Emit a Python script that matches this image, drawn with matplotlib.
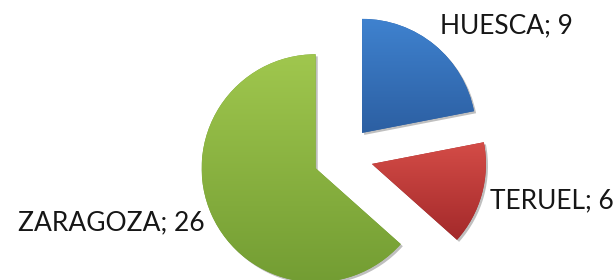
import numpy as np
import matplotlib
matplotlib.use("Agg")
import matplotlib.pyplot as plt
from matplotlib.colors import LinearSegmentedColormap
import matplotlib.patheffects as pe

categories = ["HUESCA", "TERUEL", "ZARAGOZA"]
values = [9, 6, 26]
top_colors = ["#3f82cf", "#d44c47", "#a0c74e"]
bottom_colors = ["#2c5fa2", "#a3292a", "#739d33"]

W, H = 616, 280
fig = plt.figure(figsize=(W / 100, H / 100), dpi=100)
ax = fig.add_axes([0, 0, 1, 1])
ax.set_axis_off()

wedges, _ = ax.pie(values, startangle=90, counterclock=False,
                   explode=[0.263] * len(values), radius=1.0,
                   colors=bottom_colors,
                   wedgeprops=dict(linewidth=0))

for w, ct, cb in zip(wedges, top_colors, bottom_colors):
    w.set_path_effects([pe.SimplePatchShadow(offset=(1.5, -1.5), alpha=0.25,
                                             shadow_rgbFace="#000000"),
                        pe.Normal()])
    ext = w.get_path().get_extents()
    cmap = LinearSegmentedColormap.from_list("g", [cb, ct])
    grad = np.linspace(0, 1, 256).reshape(-1, 1)
    im = ax.imshow(grad, cmap=cmap, origin="lower", aspect="auto",
                   extent=[ext.x0, ext.x1, ext.y0, ext.y1], zorder=w.get_zorder() + 0.1,
                   interpolation="bilinear")
    im.set_clip_path(w)

# view: center pixel (343,156), radius 114 px
s = 114.0
cx, cy = 343.0, 156.0
ax.set_xlim(-cx / s, (W - cx) / s)
ax.set_ylim(-(H - cy) / s, cy / s)
ax.set_aspect("auto")

label_pos = [(440, 33), (490, 208), (18, 230)]
for cat, v, (px, py) in zip(categories, values, label_pos):
    fig.text(px / W, 1 - py / H, f"{cat}; {v}", fontsize=19, family=["Lato", "DejaVu Sans"],
             color="#161616", ha="left", va="baseline")

fig.savefig("out.png", dpi=100)
